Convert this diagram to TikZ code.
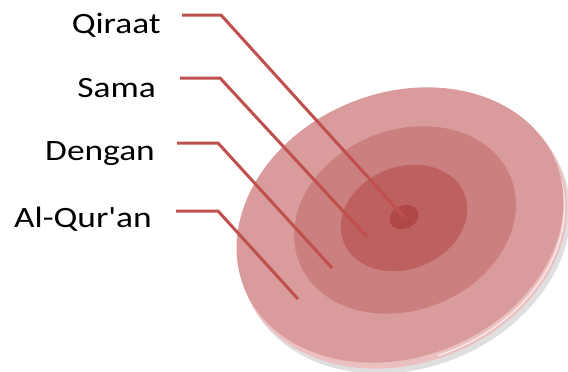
\documentclass[tikz,border=0pt]{standalone}
\usepackage{fontspec}
\setmainfont{Carlito}
\newfontfamily\qrlabelfont{Carlito}[FakeStretch=1.2, Ligatures=TeXOff]
\usetikzlibrary{shapes.geometric}
\definecolor{QrLine}{RGB}{192,80,77}
\definecolor{QrFace}{RGB}{217,155,155}
\definecolor{QrRingB}{RGB}{203,127,126}
\definecolor{QrRingC}{RGB}{189,96,95}
\definecolor{QrCore}{RGB}{176,72,71}
\definecolor{QrRim}{RGB}{236,192,192}
\definecolor{QrShadow}{RGB}{110,110,110}
\tikzset{
  qr/label/.style={
    anchor=base east,
    font=\qrlabelfont\fontsize{29.5}{29.5}\selectfont,
    text=black,
    inner sep=0pt
  },
  qr/leader/.style={draw=QrLine, line width=3pt},
  qr/ring/.style={
    ellipse,
    rotate=22,
    draw=none,
    inner sep=0pt
  },
  qr/gloss/.style={draw=white, opacity=0.7, line width=1.3pt}
}

\begin{document}
\begin{tikzpicture}[x=1pt,y=-1pt]
  \useasboundingbox (0,0) rectangle (568,372);
  % disc: shadow, rim, then the top face and its rings
  \node[qr/ring,fill=QrShadow,opacity=0.22,minimum width=338,minimum height=266] (shadow) at (406,235) {};
  \node[qr/ring,fill=QrRim,minimum width=338,minimum height=266] (rim) at (403,230) {};
  \draw[qr/gloss,shift={(rim.center)},rotate=22] (5:166 and 130) arc[start angle=5, end angle=95, x radius=166, y radius=130];
  \node[qr/ring,fill=QrFace,minimum width=336,minimum height=264] (face) at (400,225) {};
  \node[qr/ring,fill=QrRingB,minimum width=228,minimum height=180] (ringb) at (405,220) {};
  \node[qr/ring,fill=QrRingC,minimum width=130,minimum height=102] (ringc) at (404,218) {};
  \node[qr/ring,fill=QrCore,minimum width=30,minimum height=23] (core) at (404,217) {};

  % labels
  \node[qr/label] (qiraat) at (161,33) {Qiraat};
  \node[qr/label] (sama) at (156,97) {Sama};
  \node[qr/label] (dengan) at (155,160) {Dengan};
  \node[qr/label] (quran) at (152,227) {Al-Qur'an};

  % leader lines
  \coordinate (qiraat-a) at (182,15);
  \coordinate (qiraat-b) at (221,15);
  \coordinate (sama-a) at (180,78);
  \coordinate (sama-b) at (220,78);
  \coordinate (sama-end) at (367,237);
  \coordinate (dengan-a) at (177,143);
  \coordinate (dengan-b) at (218,143);
  \coordinate (dengan-end) at (332,268);
  \coordinate (quran-a) at (176,211);
  \coordinate (quran-b) at (218,211);
  \coordinate (quran-end) at (298,299);
  \draw[qr/leader] (qiraat-a) -- (qiraat-b) -- (core.center);
  \draw[qr/leader] (sama-a) -- (sama-b) -- (sama-end);
  \draw[qr/leader] (dengan-a) -- (dengan-b) -- (dengan-end);
  \draw[qr/leader] (quran-a) -- (quran-b) -- (quran-end);
\end{tikzpicture}
\end{document}
